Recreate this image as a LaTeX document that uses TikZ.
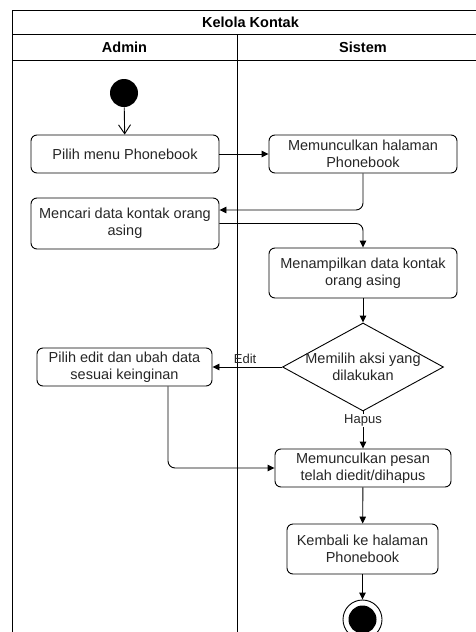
\documentclass[tikz,border=0pt]{standalone}
\usepackage{fontspec}
\setmainfont{Liberation Sans}
\usetikzlibrary{shapes.geometric,arrows.meta}
\tikzset{
  action/.style={draw, rounded corners=6pt, align=center, inner sep=0pt,
    font=\fontsize{14.5}{17}\selectfont, text=black!85},
  decision/.style={draw, diamond, inner sep=0pt, minimum width=161pt, minimum height=88pt},
  lanehead/.style={font=\fontsize{14.5}{17}\selectfont\bfseries},
  guard/.style={font=\fontsize{13}{15}\selectfont, text=black!85},
  initial/.style={circle, fill=black, minimum size=28pt, inner sep=0pt},
  final/.style={circle, draw, fill=white, minimum size=39pt, inner sep=0pt},
}
\begin{document}
\begin{tikzpicture}[x=1pt, y=-1pt, line width=0.9pt, >={Triangle[length=7pt,width=6.5pt]}]
            \useasboundingbox (0,0) rectangle (476,632);
            \clip (0,0) rectangle (476,632);
            % swimlanes
            \draw (12,10) rectangle (489,660);
            \draw (12,34) -- (489,34);
            \draw (12,60) -- (489,60);
            \draw (237,34) -- (237,660);
            \node[lanehead] (title) at (250.5,22) {Kelola Kontak};
            \node[lanehead] (admin) at (124.5,47) {Admin};
            \node[lanehead] (sistem) at (363,47) {Sistem};
            % activities
            \node[initial] (start) at (124,93) {};
            \node[action, minimum width=188pt, minimum height=38pt] (pilih) at (125,154) {Pilih menu Phonebook};
            \node[action, minimum width=188pt, minimum height=38pt] (muncul) at (363,154) {Memunculkan halaman\\Phonebook};
            \node[action, minimum width=188pt, minimum height=51pt] (cari) at (125,223.5) {Mencari data kontak orang\\asing};
            \node[action, minimum width=188pt, minimum height=50pt] (tampil) at (363,273) {Menampilkan data kontak\\orang asing};
            \node[decision, label={[action, draw=none]center:{Memilih aksi yang\\dilakukan}}] (aksi) at (363,367) {};
            \node[action, minimum width=175pt, minimum height=38pt] (edit) at (124.5,367) {Pilih edit dan ubah data\\sesuai keinginan};
            \node[action, minimum width=176pt, minimum height=38pt] (pesan) at (363,468) {Memunculkan pesan\\telah diedit/dihapus};
            \node[action, minimum width=151pt, minimum height=50pt] (kembali) at (362.5,549) {Kembali ke halaman\\Phonebook};
            \node[final] (end) at (362.5,619.5) {};
            \fill (end.center) circle[radius=14pt];
            % flows
            \draw[-{Straight Barb[length=9pt,width=12pt]}] (start) -- (pilih);
            \draw[->] (pilih) -- (muncul);
            \draw[->, rounded corners=7pt] (muncul.south) |- ([yshift=13.5pt]cari.east);
            \draw[->, rounded corners=7pt] (cari.east) -| (tampil.north);
            \draw[->] (tampil) -- (aksi);
            \draw[->] (aksi.west) -- node[guard, pos=0.53, above] {Edit} (edit.east);
            \draw[->] (aksi.south) -- node[guard, pos=0.24, fill=white, inner sep=1pt] {Hapus} (pesan.north);
            \draw[->, rounded corners=7pt] ([xshift=43.5pt]edit.south) |- (pesan.west);
            \draw[->] (pesan) -- (kembali);
            \draw[->] (kembali) -- (end);
        \end{tikzpicture}
\end{document}
